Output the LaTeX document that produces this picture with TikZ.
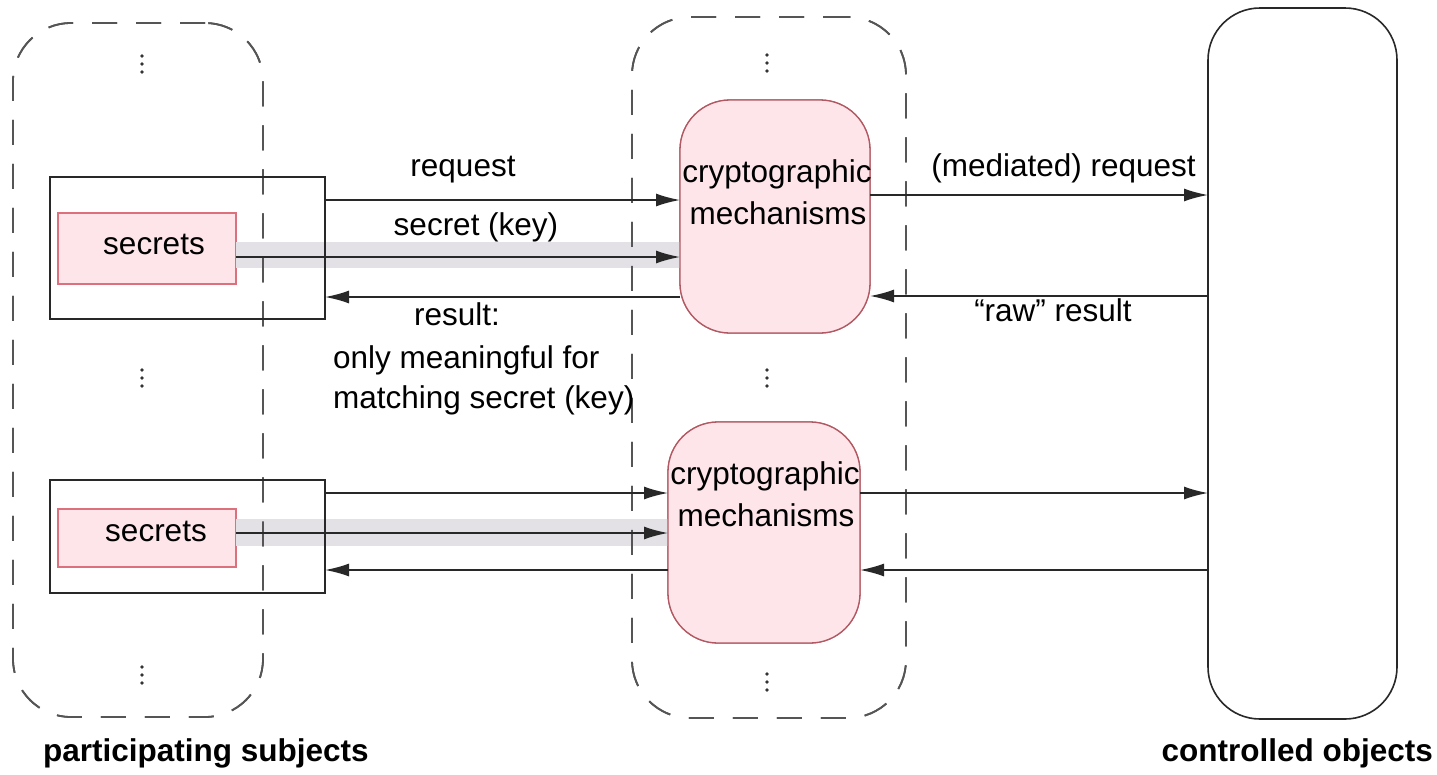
\documentclass[tikz,border=0pt]{standalone}
\usepackage{fontspec}
\setmainfont{Liberation Sans}
\usetikzlibrary{arrows.meta,calc}

\definecolor{pinkfill}{RGB}{253,229,234}
\definecolor{cryptoedge}{RGB}{178,88,98}
\definecolor{secretedge}{RGB}{220,112,124}
\definecolor{bandgray}{RGB}{227,224,230}
\definecolor{groupgray}{RGB}{85,85,85}
\definecolor{linegray}{RGB}{40,40,40}

\tikzset{
  txt/.style={font=\fontsize{31.5}{42}\selectfont, inner sep=0pt, anchor=base},
  caption/.style={font=\fontsize{31.5}{38}\selectfont\bfseries, inner sep=0pt, anchor=base},
  group/.style={draw=groupgray, line width=1.8pt, dash pattern=on 25pt off 19pt,
    rounded corners=58pt, inner sep=0pt, outer sep=0pt},
  subjbox/.style={draw=linegray, line width=1.4pt, inner sep=0pt, outer sep=0pt},
  secretbox/.style={draw=secretedge, fill=pinkfill, line width=1.3pt, inner sep=0pt, outer sep=0pt},
  cryptobox/.style={draw=cryptoedge, fill=pinkfill, line width=1.3pt, rounded corners=50pt,
    inner sep=0pt, outer sep=0pt},
  objbox/.style={draw=linegray, line width=1.6pt, rounded corners=52pt, inner sep=0pt, outer sep=0pt},
  flow/.style={draw=linegray, line width=1.6pt, -{Latex[length=24pt,width=13pt]}},
  vdts/.pic={\fill[black!80] (0,-8) circle (1.9pt) (0,0) circle (1.9pt) (0,8) circle (1.9pt);}
}

\begin{document}
\begin{tikzpicture}[x=1pt,y=-1pt]
\useasboundingbox (0,0) rectangle (1437,774);

% grouping frames and the object container
\node[group, minimum width=250pt, minimum height=694pt] (subjects) at (138,370) {};
\node[group, minimum width=274pt, minimum height=701pt] (mechs) at (769,367.5) {};
\node[objbox, minimum width=189pt, minimum height=711pt] (objects) at (1302.5,363.5) {};

% row levels of the flows
\coordinate (rq1) at (0,200);
\coordinate (sk1) at (0,257);
\coordinate (rs1) at (0,297);
\coordinate (mr1) at (0,195);
\coordinate (rr1) at (0,296);
\coordinate (bt1) at (0,242);
\coordinate (bb1) at (0,268);
\coordinate (rq2) at (0,493);
\coordinate (sk2) at (0,533);
\coordinate (rs2) at (0,570);
\coordinate (bt2) at (0,519);
\coordinate (bb2) at (0,546);

% subjects with their secrets
\node[subjbox, minimum width=275pt, minimum height=142pt] (subj1) at (187.5,248) {};
\node[subjbox, minimum width=275pt, minimum height=113pt] (subj2) at (187.5,536.5) {};
\node[secretbox, minimum width=178pt, minimum height=71pt] (sec1) at (147,248.5) {};
\node[secretbox, minimum width=178pt, minimum height=58pt] (sec2) at (147,538) {};

% cryptographic mechanisms
\node[cryptobox, minimum width=190pt, minimum height=233pt] (crypto1) at (775,216.5) {};
\node[cryptobox, minimum width=192pt, minimum height=221pt] (crypto2) at (764,532.5) {};

% shaded channels carrying the secret keys
\fill[bandgray] (sec1.east |- bt1) rectangle (crypto1.west |- bb1);
\fill[bandgray] (sec2.east |- bt2) rectangle (crypto2.west |- bb2);

% redraw the frames over the shading
\node[group, minimum width=250pt, minimum height=694pt] at (subjects) {};
\node[group, minimum width=274pt, minimum height=701pt] at (mechs) {};
\node[subjbox, minimum width=275pt, minimum height=142pt] at (subj1) {};
\node[subjbox, minimum width=275pt, minimum height=113pt] at (subj2) {};
\node[cryptobox, minimum width=190pt, minimum height=233pt] at (crypto1) {};
\node[cryptobox, minimum width=192pt, minimum height=221pt] at (crypto2) {};

% texts inside boxes
\node[txt] (s1t) at (154,254) {secrets};
\node[txt] (s2t) at (156,541) {secrets};
\node[txt] (c1a) at (777,182) {cryptographic};
\node[txt] (c1b) at (778,224) {mechanisms};
\node[txt] (c2a) at (765,484) {cryptographic};
\node[txt] (c2b) at (766,526) {mechanisms};

% upper flows
\draw[flow] (subj1.east |- rq1) -- (crypto1.west |- rq1);
\draw[flow] (sec1.east |- sk1) -- (crypto1.west |- sk1);
\draw[flow] (crypto1.west |- rs1) -- (subj1.east |- rs1);
\draw[flow] (crypto1.east |- mr1) -- (objects.west |- mr1);
\draw[flow] (objects.west |- rr1) -- (crypto1.east |- rr1);

% lower flows
\draw[flow] (subj2.east |- rq2) -- (crypto2.west |- rq2);
\draw[flow] (sec2.east |- sk2) -- (crypto2.west |- sk2);
\draw[flow] (crypto2.west |- rs2) -- (subj2.east |- rs2);
\draw[flow] (crypto2.east |- rq2) -- (objects.west |- rq2);
\draw[flow] (objects.west |- rs2) -- (crypto2.east |- rs2);

% flow labels
\node[txt] (lreq) at (463,176) {request};
\node[txt] (lkey) at (476,235) {secret (key)};
\node[txt] (lres) at (457,325) {result:};
\node[txt, anchor=base west] (lres2) at (333,368) {only meaningful for};
\node[txt, anchor=base west] (lres3) at (333,408) {matching secret (key)};
\node[txt, anchor=base east] (lmreq) at (1196,176) {(mediated) request};
\node[txt] (lraw) at (1053,321) {“raw” result};

% ellipses marking further instances
\pic at (142,64) {vdts};
\pic at (142,378) {vdts};
\pic at (142,675) {vdts};
\pic at (767,63) {vdts};
\pic at (767,378) {vdts};
\pic at (767,682) {vdts};

% captions
\node[caption, anchor=base west] (capsub) at (43,761) {participating subjects};
\node[caption, anchor=base east] (capobj) at (1433,761) {controlled objects};
\end{tikzpicture}
\end{document}
